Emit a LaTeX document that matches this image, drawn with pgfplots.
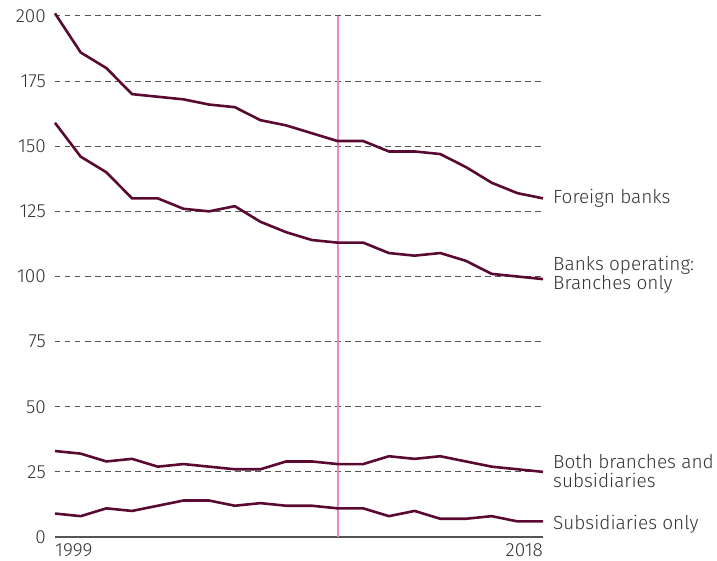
\documentclass[border=0pt]{standalone}
\usepackage{fontspec}
\setmainfont{Fira Sans}[UprightFont={* Light}]
\usepackage{pgfplots}
\pgfplotsset{compat=1.18}
\definecolor{linec}{HTML}{5A0A32}
\definecolor{vlinecol}{RGB}{238,136,192}
\definecolor{txt}{HTML}{333333}
\definecolor{gridc}{HTML}{555555}
\begin{document}
\begin{tikzpicture}
\begin{axis}[
  scale only axis,
  width=488pt, height=521pt,
  xmin=1999, xmax=2018,
  ymin=0, ymax=200,
  clip=false,
  axis x line*=bottom,
  axis y line*=left,
  x axis line style={draw=gridc, line width=1.2pt, -},
  y axis line style={draw=none},
  xtick=\empty,
  ytick={0,25,...,200},
  major tick length=0pt,
  ytick style={draw=none},
  extra y ticks={25,50,...,200},
  extra y tick labels={},
  extra y tick style={grid=major},
  grid style={draw=gridc, line width=1pt, dash pattern=on 5.5pt off 4.5pt},
  yticklabel style={text=txt, font=\fontsize{19}{20}\selectfont, inner sep=0pt, anchor=east, xshift=-9pt},
  /pgf/number format/assume math mode=true,
]
\addplot[vlinecol, line width=2pt, forget plot] table {
x y
2010 0
2010 200
};
% Foreign banks
\addplot[linec, line width=2.6pt] coordinates {
(1999,201)(2000,186)(2001,180)(2002,170)(2003,169)(2004,168)(2005,166)(2006,165)(2007,160)(2008,158)
(2009,155)(2010,152)(2011,152)(2012,148)(2013,148)(2014,147)(2015,142)(2016,136)(2017,132)(2018,130)};
% Branches only
\addplot[linec, line width=2.6pt] coordinates {
(1999,159)(2000,146)(2001,140)(2002,130)(2003,130)(2004,126)(2005,125)(2006,127)(2007,121)(2008,117)
(2009,114)(2010,113)(2011,113)(2012,109)(2013,108)(2014,109)(2015,106)(2016,101)(2017,100)(2018,99)};
% Both
\addplot[linec, line width=2.6pt] coordinates {
(1999,33)(2000,32)(2001,29)(2002,30)(2003,27)(2004,28)(2005,27)(2006,26)(2007,26)(2008,29)
(2009,29)(2010,28)(2011,28)(2012,31)(2013,30)(2014,31)(2015,29)(2016,27)(2017,26)(2018,25)};
% Subsidiaries only
\addplot[linec, line width=2.6pt] coordinates {
(1999,9)(2000,8)(2001,11)(2002,10)(2003,12)(2004,14)(2005,14)(2006,12)(2007,13)(2008,12)
(2009,12)(2010,11)(2011,11)(2012,8)(2013,10)(2014,7)(2015,7)(2016,8)(2017,6)(2018,6)};
\tikzset{lab/.style={anchor=west, text=txt, font=\fontsize{19}{19}\selectfont, inner sep=0pt, align=left, xshift=10pt}}
\node[lab] at (axis cs:2018,130) {Foreign banks};
\node[lab] at (axis cs:2018,100.5) {Banks operating:\\Branches only};
\node[lab] at (axis cs:2018,25.3) {Both branches and\\subsidiaries};
\node[lab] at (axis cs:2018,4.8) {Subsidiaries only};
\node[anchor=north west, text=txt, font=\fontsize{19}{20}\selectfont, inner sep=0pt] at (rel axis cs:0,0) [yshift=-6pt] {1999};
\node[anchor=north east, text=txt, font=\fontsize{19}{20}\selectfont, inner sep=0pt] at (rel axis cs:1,0) [yshift=-6pt] {2018};
\end{axis}
\pgfresetboundingbox
\path (-55pt,-24pt) rectangle (662pt,537pt);
\end{tikzpicture}
\end{document}
